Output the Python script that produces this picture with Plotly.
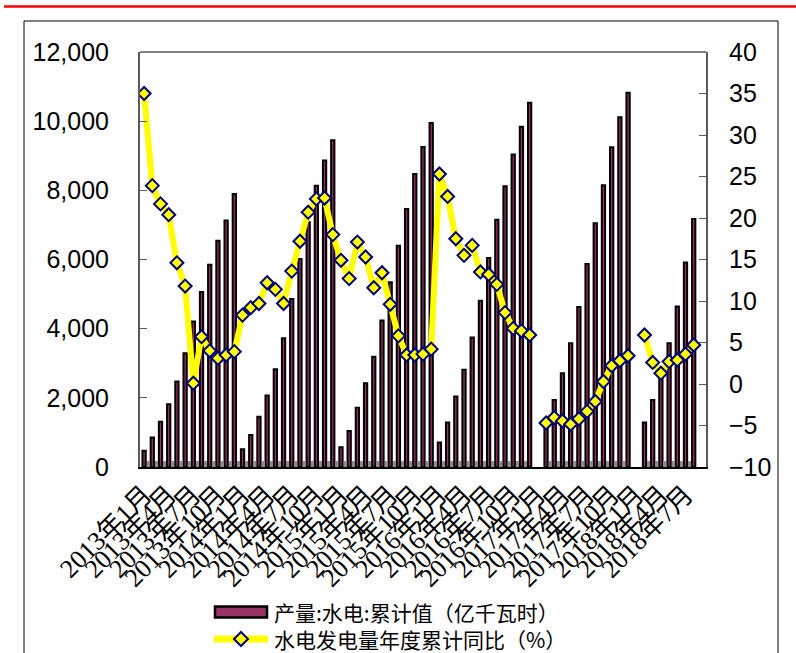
import plotly.graph_objects as go

# Monthly categories, Jan 2013 through Sep 2018
years = [2013, 2014, 2015, 2016, 2017, 2018]
months = [f"{y}年{m}月" for y in years for m in range(1, 13)][:69]

# 产量:水电:累计值（亿千瓦时）
hydro_cum = [
    470, 850, 1310, 1815, 2470, 3290, 4210, 5060, 5850, 6545, 7130, 7895,
    510, 925, 1455, 2065, 2830, 3725, 4855, 6015, 7080, 8135, 8860, 9445,
    570, 1040, 1715, 2425, 3185, 4235, 5345, 6400, 7460, 8475, 9255, 9950,
    705, 1285, 2035, 2810, 3745, 4805, 6040, 7150, 8115, 9035, 9835, 10530,
    None, 1250, 1940, 2710, 3580, 4625, 5870, 7045, 8145, 9245, 10115, 10820,
    None, 1285, 1940, 2650, 3580, 4640, 5915, 7170, None,
]

# 水电发电量年度累计同比（%）
hydro_yoy = [
    35.0, 23.9, 21.7, 20.4, 14.6, 11.8, 0.1, 5.7, 4.0, 3.1, 3.5, 3.9,
    8.3, 9.2, 9.7, 12.2, 11.4, 9.7, 13.6, 17.2, 20.7, 22.3, 22.4, 18.0,
    14.9, 12.7, 17.1, 15.3, 11.6, 13.4, 9.6, 5.8, 3.5, 3.5, 3.6, 4.2,
    25.3, 22.6, 17.5, 15.5, 16.7, 13.5, 13.2, 12.0, 8.6, 6.7, 6.4, 5.9,
    None, -4.7, -4.05, -4.45, -4.85, -4.2, -3.3, -2.1, 0.3, 2.2, 2.8, 3.4,
    None, 5.9, 2.6, 1.3, 2.7, 2.9, 3.6, 4.7, None,
]

bar_name = "产量:水电:累计值（亿千瓦时）"
line_name = "水电发电量年度累计同比（%）"

idx = list(range(len(months)))
tick_idx = idx[0:67:3]
tick_text = [months[i] for i in tick_idx]

# boundaries between neighbouring bars (for the short grey base ticks)
base_ticks = [i + 0.5 for i in range(len(months) - 1)
              if hydro_cum[i] is not None and hydro_cum[i + 1] is not None]

W, H = 796, 653
L, R, T, B = 140, 90, 52, 186
PW, PH = W - L - R, H - T - B


def px(x):
    return (x - L) / PW


def py(y):
    return (H - B - y) / PH


fig = go.Figure()
fig.add_trace(go.Bar(
    x=idx, y=hydro_cum, name=bar_name,
    marker=dict(color="#993366", line=dict(color="#000000", width=2)),
    yaxis="y", showlegend=False,
))
fig.add_trace(go.Scatter(
    x=idx, y=hydro_yoy, name=line_name, mode="lines+markers",
    line=dict(color="#FFFF00", width=6),
    marker=dict(symbol="diamond", size=10, color="#FFFF00",
                line=dict(color="#000080", width=2)),
    connectgaps=False, yaxis="y2", showlegend=False,
))

tick_font = dict(family="Liberation Sans, Arial, sans-serif", size=25, color="#000000")

fig.update_layout(
    width=W, height=H,
    margin=dict(l=L, r=R, t=T, b=B, pad=0),
    paper_bgcolor="#FFFFFF", plot_bgcolor="#FFFFFF",
    bargap=0.6,
    xaxis=dict(
        range=[-0.5, len(months) - 0.5], tickmode="array",
        tickvals=tick_idx, ticktext=tick_text, tickangle=-45,
        tickfont=dict(family="Liberation Serif, Noto Sans CJK SC, serif", size=26, color="#000000"),
        ticks="", showgrid=False, zeroline=False,
        showline=True, linecolor="#000000", linewidth=2, mirror=False,
        minor=dict(ticks="inside", tickmode="array", tickvals=base_ticks,
                   ticklen=6, tickwidth=3, tickcolor="#8C8C8C", showgrid=False),
        automargin=False,
    ),
    yaxis=dict(
        range=[0, 12000], dtick=2000, tickformat=",d",
        tickfont=tick_font, ticks="inside", ticklen=7, tickcolor="#5A5A5A",
        showgrid=False, zeroline=False,
        showline=True, linecolor="#5A5A5A", linewidth=2,
        ticklabelstandoff=24, automargin=False,
    ),
    yaxis2=dict(
        range=[-10, 40], dtick=5, overlaying="y", side="right",
        tickfont=tick_font, ticks="inside", ticklen=7, tickcolor="#5A5A5A",
        showgrid=False, zeroline=False,
        showline=True, linecolor="#5A5A5A", linewidth=2,
        ticklabelstandoff=16, automargin=False,
    ),
    showlegend=False,
)

shapes = []
# plot-area top border
shapes.append(dict(type="line", xref="paper", yref="paper", x0=0, x1=1, y0=1, y1=1,
                   line=dict(color="#808080", width=2)))
# outer chart frame
shapes.append(dict(type="rect", xref="paper", yref="paper",
                   x0=px(24), x1=px(778), y0=py(700), y1=py(21),
                   line=dict(color="#000000", width=1), fillcolor="rgba(0,0,0,0)", layer="below"))
# red rule across the top
shapes.append(dict(type="line", xref="paper", yref="paper", x0=px(4), x1=px(800),
                   y0=py(6.5), y1=py(6.5), line=dict(color="#FF0000", width=2.5)))
# legend swatches
row1, row2 = 612, 639
shapes.append(dict(type="rect", xref="paper", yref="paper",
                   x0=px(215), x1=px(267), y0=py(row1 + 5.5), y1=py(row1 - 5.5),
                   line=dict(color="#000000", width=2.5), fillcolor="#993366"))
shapes.append(dict(type="line", xref="paper", yref="paper",
                   x0=px(214), x1=px(268), y0=py(row2), y1=py(row2),
                   line=dict(color="#FFFF00", width=7)))
cx, cy, r = 241, row2, 7
shapes.append(dict(type="path", xref="paper", yref="paper",
                   path=(f"M {px(cx - r)} {py(cy)} L {px(cx)} {py(cy - r)} "
                         f"L {px(cx + r)} {py(cy)} L {px(cx)} {py(cy + r)} Z"),
                   line=dict(color="#000080", width=2), fillcolor="#FFFF00"))
fig.update_layout(shapes=shapes)

legend_font = dict(family="Noto Sans CJK SC, sans-serif", size=21, color="#000000")
fig.add_annotation(x=px(273), y=py(row1), xref="paper", yref="paper", text=bar_name,
                   showarrow=False, xanchor="left", yanchor="middle", font=legend_font,
                   borderpad=0)
fig.add_annotation(x=px(273), y=py(row2), xref="paper", yref="paper", text=line_name,
                   showarrow=False, xanchor="left", yanchor="middle", font=legend_font,
                   borderpad=0)

fig.write_html("out.html")
